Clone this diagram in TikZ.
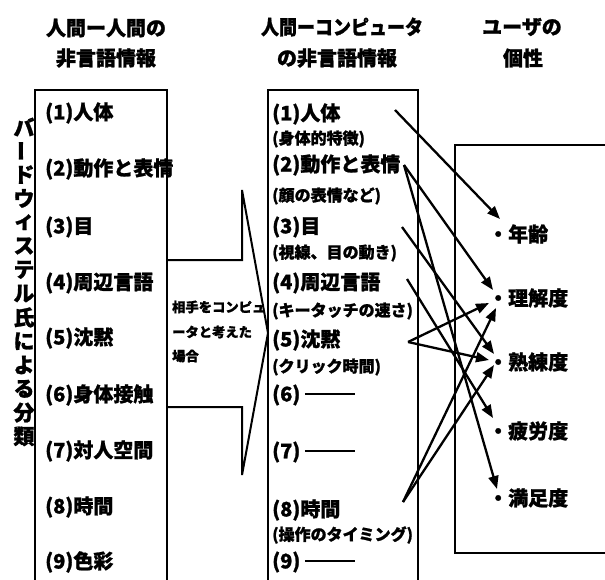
\documentclass[tikz,border=0pt]{standalone}
\usepackage{fontspec}
\usepackage{graphicx}
\setmainfont{Noto Sans CJK JP}[BoldFeatures={FakeBold=1.2}]
\usetikzlibrary{arrows.meta}
\newcommand\ftitle{\fontsize{20pt}{24pt}\selectfont\bfseries}
\newcommand\fitem{\fontsize{20pt}{24pt}\selectfont\bfseries}
\newcommand\fsubt{\fontsize{16pt}{19pt}\selectfont\bfseries}
\newcommand\fnote{\fontsize{13.3pt}{16pt}\selectfont\bfseries}
\newcommand\fvert{\fontsize{21pt}{24pt}\selectfont\bfseries}
\newcommand\bardash{\rule[0.33em]{50pt}{2.2pt}}
\begin{document}
\begin{tikzpicture}[x=1pt,y=-1pt,
  boxline/.style={line width=2pt},
  conn/.style={line width=2.3pt,-{Triangle[length=13pt,width=10pt]}},
  title/.style={inner sep=0pt,font=\ftitle},
  item/.style={anchor=west,inner sep=0pt,font=\fitem},
  subitem/.style={anchor=west,inner sep=0pt,font=\fsubt},
  note/.style={anchor=west,inner sep=0pt,font=\fnote},
  vch/.style={inner sep=0pt,font=\fvert}]
\useasboundingbox (0,0) rectangle (605,579);

% titles
\node[title] (tl1) at (106,28) {人間ー人間の};
\node[title] (tl2) at (106,58) {非言語情報};
\node[title] (tm1) at (342,27) {\scalebox{0.9}[1]{人間ーコンピュータ}};
\node[title] (tm2) at (337,58) {の非言語情報};
\node[title] (tr1) at (522,27) {ユーザの};
\node[title] (tr2) at (523,58) {個性};

% vertical label
\foreach \c [count=\i] in {バ,{\rotatebox{90}{ー}},ド,ウ,ィ,ス,テ,ル,氏,に,よ,る,分,類}
  \node[vch] (v\i) at (24,{127+23.8*(\i-1)}) {\c};

% boxes
\draw[boxline] (35,590) -- (35,90) -- (167,90) -- (167,590);
\draw[boxline] (268,590) -- (268,90) -- (418,90) -- (418,590);
\draw[boxline] (615,145) -- (455,145) -- (455,553) -- (615,553);

% block arrow
\draw[boxline,line join=miter] (167,260) -- (242,260) -- (242,190) -- (268,333)
  -- (242,475) -- (242,407) -- (167,407);
\node[note] (n1) at (172,307) {相手をコンピュ};
\node[note] (n2) at (172,332) {ータと考えた};
\node[note] (n3) at (172,356) {場合};

% left items
\node[item] (L1) at (45,113) {(1)人体};
\node[item] (L2) at (45,169) {(2)動作と表情};
\node[item] (L3) at (45,227) {(3)目};
\node[item] (L4) at (45,283) {(4)周辺言語};
\node[item] (L5) at (45,338) {(5)沈黙};
\node[item] (L6) at (45,395) {(6)身体接触};
\node[item] (L7) at (45,451) {(7)対人空間};
\node[item] (L8) at (45,507) {(8)時間};
\node[item] (L9) at (45,562) {(9)色彩};

% middle items
\node[item] (M1) at (272,114) {(1)人体};
\node[subitem] (M1s) at (272,139) {(身体的特徴)};
\node[item] (M2) at (272,165) {(2)動作と表情};
\node[subitem] (M2s) at (272,196) {(顔の表情など)};
\node[item] (M3) at (272,227) {(3)目};
\node[subitem] (M3s) at (272,253) {(視線、目の動き)};
\node[item] (M4) at (272,283) {(4)周辺言語};
\node[subitem] (M4s) at (272,311) {(キータッチの速さ)};
\node[item] (M5) at (272,340) {(5)沈黙};
\node[subitem] (M5s) at (272,367) {(クリック時間)};
\node[item] (M6) at (272,395) {(6) \bardash};
\node[item] (M7) at (272,452) {(7) \bardash};
\node[item] (M8) at (272,510) {(8)時間};
\node[subitem] (M8s) at (272,535) {(操作のタイミング)};
\node[item] (M9) at (272,562) {(9) \bardash};

% right items
\node[item] (R1) at (488,234) {・年齢};
\node[item] (R2) at (488,298) {・理解度};
\node[item] (R3) at (488,362) {・熟練度};
\node[item] (R4) at (488,431) {・疲労度};
\node[item] (R5) at (488,498) {・満足度};

% connector ends
\coordinate (s1) at (395,110);
\coordinate (s2) at (404,165);
\coordinate (s3) at (402,227);
\coordinate (s4) at (407,279);
\coordinate (s5) at (408,342);
\coordinate (s8) at (403,502);
\coordinate (t1) at (500,219);
\coordinate (t2a) at (493,290);
\coordinate (t2b) at (489,303);
\coordinate (t2c) at (496,308);
\coordinate (t3a) at (494,354);
\coordinate (t3b) at (489,360);
\coordinate (t3c) at (494,365);
\coordinate (t4) at (493,418);
\coordinate (t5) at (497,489);

\draw[conn] (s1) -- (t1);
\draw[conn] (s2) -- (t2a);
\draw[conn] (s2) -- (t5);
\draw[conn] (s3) -- (t3a);
\draw[conn] (s4) -- (t4);
\draw[conn] (s5) -- (t2b);
\draw[conn] (s5) -- (t3b);
\draw[conn] (s8) -- (t2c);
\draw[conn] (s8) -- (t3c);
\end{tikzpicture}
\end{document}
